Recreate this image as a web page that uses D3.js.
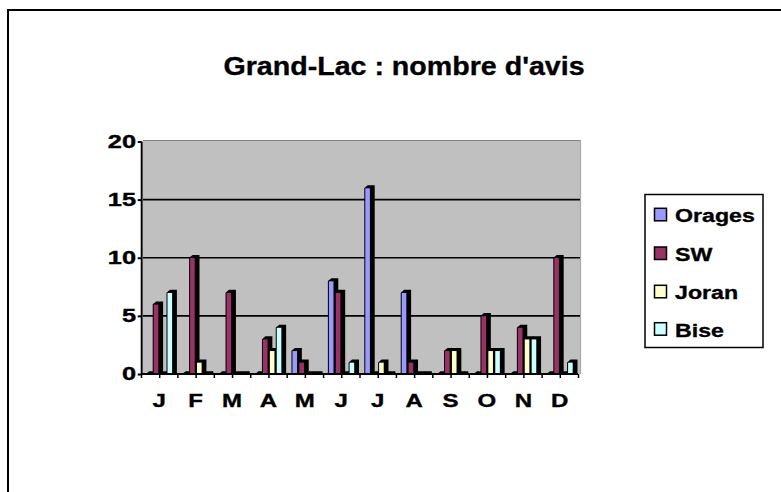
<!DOCTYPE html>
<html>
<head>
<meta charset="utf-8">
<script src="https://cdn.jsdelivr.net/npm/d3@7"></script>
<style>
  body { margin: 0; background: #fff; }
  text { font-family: "Liberation Sans", Arial, sans-serif; font-weight: bold; fill: #000; stroke: #000; stroke-width: 0.35px; }
</style>
</head>
<body>
<div id="chart"></div>
<script>
// Grand-Lac : nombre d'avis, par mois
const months = ['J', 'F', 'M', 'A', 'M', 'J', 'J', 'A', 'S', 'O', 'N', 'D'];
const seriesNames = ['Orages', 'SW', 'Joran', 'Bise'];
const orages = [0, 0, 0, 0, 2, 8, 16, 7, 0, 0, 0, 0];
const sw = [6, 10, 7, 3, 1, 7, 0, 1, 2, 5, 4, 10];
const joran = [0, 1, 0, 2, 0, 0, 1, 0, 2, 2, 3, 0];
const bise = [7, 0, 0, 4, 0, 1, 0, 0, 0, 2, 3, 1];
const yTicks = [0, 5, 10, 15, 20];

const colors = ['#9999FF', '#993366', '#FFFFCC', '#CCFFFF'];
const seriesData = [orages, sw, joran, bise].map((values, i) => ({
  name: seriesNames[i], values, color: colors[i]
}));

const width = 781, height = 492;
const svg = d3.select('#chart').append('svg')
  .attr('width', width).attr('height', height);

svg.append('rect').attr('width', width).attr('height', height).attr('fill', '#fff');

// outer frame (runs off the right/bottom edge)
svg.append('rect')
  .attr('x', 8).attr('y', 10).attr('width', 800).attr('height', 520)
  .attr('fill', 'none').attr('stroke', '#000').attr('stroke-width', 2);

// stretched text helper, Excel rendered the labels wide
function label(g, x, y, str, size, sx, anchor) {
  return g.append('text')
    .attr('transform', `translate(${x},${y}) scale(${sx},1)`)
    .attr('text-anchor', anchor)
    .style('font-size', size + 'px')
    .text(str);
}

label(svg, 404, 75, "Grand-Lac : nombre d'avis", 26, 1.1, 'middle');

// scales
const x = d3.scaleBand().domain(d3.range(months.length)).range([141, 578]).padding(0);
const inner = d3.scaleBand().domain(seriesNames).range([4.8, 4.8 + 27.6]);
const y = d3.scaleLinear().domain([0, 20]).range([374, 141.5]);
const half = d3.scaleLinear().domain([0, 12]).range([141, 578]);

// back wall
const wall = svg.append('g');
wall.append('rect')
  .attr('x', 143).attr('y', 140).attr('width', 437.5).attr('height', 234)
  .attr('fill', '#C0C0C0');
wall.append('line')
  .attr('x1', 143).attr('x2', 580.5).attr('y1', 140.5).attr('y2', 140.5)
  .attr('stroke', '#808080').attr('stroke-width', 1.2);
wall.append('line')
  .attr('x1', 580.5).attr('x2', 580.5).attr('y1', 140).attr('y2', 374)
  .attr('stroke', '#a8a8a8').attr('stroke-width', 1.2);

// gridlines
wall.selectAll('line.grid')
  .data(yTicks.filter(d => d > 0 && d < 20))
  .enter().append('line')
  .attr('class', 'grid')
  .attr('x1', 143).attr('x2', 580)
  .attr('y1', d => y(d)).attr('y2', d => y(d))
  .attr('stroke', '#000').attr('stroke-width', 1.6);

// bars: black depth + colored front face
const dx = 3.5, dy = 2.8;
const bw = inner.bandwidth();
const base = y(0);
const bars = svg.append('g');

seriesData.forEach(s => {
  s.values.forEach((v, i) => {
    const x0 = x(i) + inner(s.name);
    const top = y(v);
    const p = d3.path();
    p.moveTo(x0, top);
    p.lineTo(x0 + dx, top - dy);
    p.lineTo(x0 + bw + dx, top - dy);
    p.lineTo(x0 + bw + dx, base);
    p.lineTo(x0, base);
    p.closePath();
    bars.append('path').attr('d', p.toString()).attr('fill', '#000');
    if (v > 0) {
      bars.append('rect')
        .attr('x', x0 + 1).attr('y', top + 0.3)
        .attr('width', bw - 2.3).attr('height', base - top - 0.3)
        .attr('fill', s.color);
    }
  });
});

// y axis
const yAxis = svg.append('g')
  .attr('transform', 'translate(141.7,0)')
  .call(d3.axisLeft(y).tickValues(yTicks).tickSize(4).tickFormat(''));
yAxis.select('.domain').attr('stroke', '#000').attr('stroke-width', 2).attr('d', `M0,${y(20)}V${base}`);
yAxis.selectAll('.tick line').attr('stroke', '#000').attr('stroke-width', 2);
yTicks.forEach(t => label(svg, 136, y(t) + 6.2, String(t), 17.5, 1.45, 'end'));

// x axis with ticks on every half category
const xAxis = svg.append('g')
  .attr('transform', `translate(0,${base})`)
  .call(d3.axisBottom(half).tickValues(d3.range(0, 12.5, 0.5)).tickSize(4).tickFormat(''));
xAxis.select('.domain').attr('stroke', '#000').attr('stroke-width', 2).attr('d', 'M141,0H578');
xAxis.selectAll('.tick line').attr('stroke', '#000').attr('stroke-width', 1.5);
months.forEach((m, i) => label(svg, x(i) + x.bandwidth() / 2, 406.5, m, 18.5, 1.3, 'middle'));

// legend
const legend = svg.append('g');
legend.append('rect')
  .attr('x', 645).attr('y', 194.5).attr('width', 118).attr('height', 153)
  .attr('fill', '#fff').attr('stroke', '#000').attr('stroke-width', 1.5);
const legendY = [222.3, 261, 299.3, 336.7];
seriesData.forEach((s, i) => {
  legend.append('rect')
    .attr('x', 654.5).attr('y', legendY[i] - 14)
    .attr('width', 12).attr('height', 12.5)
    .attr('fill', s.color).attr('stroke', '#000').attr('stroke-width', 1.5);
  label(legend, 675, legendY[i], s.name, 19, 1.22, 'start');
});
</script>
</body>
</html>
